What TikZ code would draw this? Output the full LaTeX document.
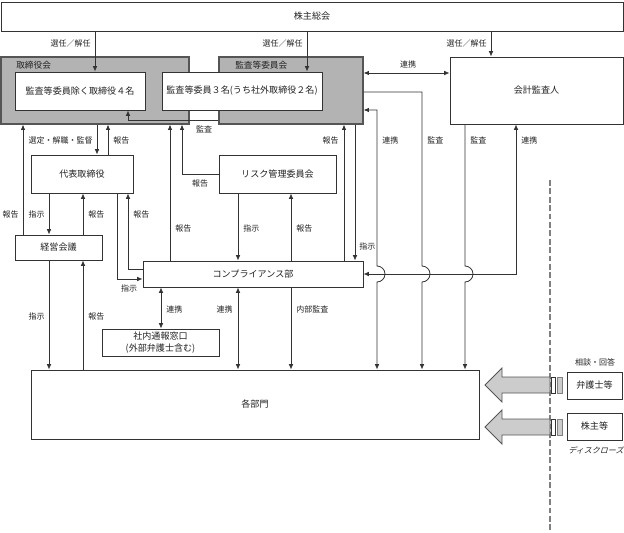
\documentclass[tikz,border=0pt]{standalone}
\usepackage{fontspec}
\setmainfont{Noto Sans CJK JP}
\newfontfamily\slantjp[FakeSlant=0.25]{Noto Sans CJK JP}
\usetikzlibrary{arrows.meta,calc}
\definecolor{linec}{HTML}{333333}
\definecolor{txtc}{HTML}{222222}
\definecolor{grayf}{HTML}{B3B3B3}
\definecolor{grayb}{HTML}{555555}
\definecolor{blockf}{HTML}{CCCCCC}
\definecolor{dashc}{HTML}{808080}
\begin{document}
\begin{tikzpicture}[x=0.75pt,y=-0.75pt,
  box/.style={draw=linec, fill=white, line width=0.7pt, inner sep=0pt, text=txtc, font=\fontsize{6.8}{8.5}\selectfont, align=center},
  graybox/.style={draw=grayb, fill=grayf, line width=0.8pt, inner sep=0pt},
  lbl/.style={inner sep=0pt, text=txtc, font=\fontsize{6}{7}\selectfont},
  conn/.style={draw=linec, line width=0.6pt},
  arr/.style={conn, -{Latex[length=4pt,width=3.4pt]}},
  darr/.style={conn, {Latex[length=4pt,width=3.4pt]}-{Latex[length=4pt,width=3.4pt]}},
  blockarr/.style={draw=grayb, fill=blockf, line width=0.7pt, line join=miter}
]
\useasboundingbox (0,0) rectangle (624,532);

% boxes
\node[box, minimum width=466.5pt, minimum height=21.75pt] (agm) at (312,16.5) {株主総会};
\node[graybox, minimum width=141pt, minimum height=50.25pt] (board) at (95,90.5) {};
\node[graybox, minimum width=108pt, minimum height=50.25pt] (acc) at (291,90.5) {};
\node[lbl, anchor=west, font=\fontsize{6.5}{7}\selectfont] (boardlbl) at (16,65) {取締役会};
\node[lbl, anchor=west, font=\fontsize{6.5}{7}\selectfont] (acclbl) at (235,65) {監査等委員会};
\node[box, minimum width=97.5pt, minimum height=28.5pt] (dir4) at (80,91) {監査等委員除く取締役４名};
\node[box, minimum width=120pt, minimum height=28.5pt] (aud3) at (242,91) {監査等委員３名(うち社外取締役２名)};
\node[box, minimum width=129.75pt, minimum height=50.25pt] (auditor) at (536.5,90.5) {会計監査人};
\node[box, minimum width=76.5pt, minimum height=28.5pt] (rep) at (82,174) {代表取締役};
\node[box, minimum width=87.75pt, minimum height=28.5pt] (risk) at (277.5,174) {リスク管理委員会};
\node[box, minimum width=65.25pt, minimum height=18.75pt] (mgmt) at (58.5,247.5) {経営会議};
\node[box, minimum width=165pt, minimum height=19.5pt] (comp) at (253,274) {コンプライアンス部};
\node[box, minimum width=87.75pt, minimum height=20.25pt] (hotline) at (160.5,342.5) {社内通報窓口\\(外部弁護士含む)};
\node[box, minimum width=336pt, minimum height=51.75pt] (depts) at (255,404.5) {各部門};
\node[box, minimum width=41.25pt, minimum height=20.25pt] (lawyer) at (594.5,385.5) {弁護士等};
\node[box, minimum width=41.25pt, minimum height=20.25pt] (share) at (594.5,426.5) {株主等};

% routing coordinates
\coordinate (s1) at (95,0);
\coordinate (s2) at (307,0);
\coordinate (s3) at (491,0);
\coordinate (k1) at (128,120);
\coordinate (k2) at (0,73);
\coordinate (k3) at (422,92);
\coordinate (k4) at (377,110);
\coordinate (k5) at (516,274);
\coordinate (h1) at (377,274);
\coordinate (h2) at (422,274);
\coordinate (h3) at (465,274);
\coordinate (q1) at (344,0);
\coordinate (q2) at (355,0);
\coordinate (q3) at (97,0);
\coordinate (q4) at (108,0);
\coordinate (q5) at (23,0);
\coordinate (q6) at (49,0);
\coordinate (q7) at (83,0);
\coordinate (k6) at (117,279);
\coordinate (k7) at (128,269);
\coordinate (q8) at (170,0);
\coordinate (k8) at (182,174);
\coordinate (q9) at (238,0);
\coordinate (q10) at (291,0);
\coordinate (q11) at (161,0);
\coordinate (dtop) at (550,180);
\coordinate (dbot) at (550,532);

% connectors from AGM
\draw[arr] (agm.south -| s1) -- (dir4.north -| s1);
\draw[arr] (agm.south -| s2) -- (aud3.north -| s2);
\draw[arr] (agm.south -| s3) -- (auditor.north -| s3);
\node[lbl, anchor=east] (l1) at (91,43) {選任／解任};
\node[lbl, anchor=east] (l2) at (303,43) {選任／解任};
\node[lbl, anchor=east] (l3) at (487,43) {選任／解任};

% audit committee -> directors
\draw[arr] (acc.west |- k1) -- (k1) -- (dir4.south -| k1);
\node[lbl] (l4) at (204,129) {監査};

% renkei committee <-> auditor
\draw[darr] (acc.east |- k2) -- (auditor.west |- k2);
\node[lbl] (l5) at (408,64) {連携};

% committee -> depts (audit)
\draw[arr] (acc.east |- k3) -- (k3) -- ($(h2)+(0,-8)$) .. controls ($(h2)+(4.4,-8)$) and ($(h2)+(8,-4.4)$) .. ($(h2)+(8,0)$) .. controls ($(h2)+(8,4.4)$) and ($(h2)+(4.4,8)$) .. ($(h2)+(0,8)$) -- (depts.north -| h2);
\node[lbl, anchor=west] (l6) at (427,140) {監査};

% committee <-> depts (renkei)
\draw[darr] (acc.east |- k4) -- (k4) -- ($(h1)+(0,-8)$) .. controls ($(h1)+(4.4,-8)$) and ($(h1)+(8,-4.4)$) .. ($(h1)+(8,0)$) .. controls ($(h1)+(8,4.4)$) and ($(h1)+(4.4,8)$) .. ($(h1)+(0,8)$) -- (depts.north -| h1);
\node[lbl, anchor=west] (l7) at (382,140) {連携};

% auditor -> depts
\draw[arr] (auditor.south -| h3) -- ($(h3)+(0,-8)$) .. controls ($(h3)+(4.4,-8)$) and ($(h3)+(8,-4.4)$) .. ($(h3)+(8,0)$) .. controls ($(h3)+(8,4.4)$) and ($(h3)+(4.4,8)$) .. ($(h3)+(0,8)$) -- (depts.north -| h3);
\node[lbl, anchor=west] (l8) at (470,140) {監査};

% auditor <-> compliance
\draw[darr] (comp.east |- k5) -- (k5) -- (auditor.south -| k5);
\node[lbl, anchor=west] (l9) at (521,140) {連携};

% compliance <-> committee
\draw[arr] (comp.north -| q1) -- (acc.south -| q1);
\node[lbl, anchor=east] (l10) at (339,140) {報告};
\draw[arr] (acc.south -| q2) -- (comp.north -| q2);
\node[lbl, anchor=west] (l11) at (359,246) {指示};

% board <-> representative
\draw[arr] (board.south -| q3) -- (rep.north -| q3);
\node[lbl, anchor=east] (l12) at (93,140) {選定・解職・監督};
\draw[arr] (rep.north -| q4) -- (board.south -| q4);
\node[lbl, anchor=west] (l13) at (113,140) {報告};

% mgmt -> board
\draw[arr] (mgmt.north -| q5) -- (board.south -| q5);
\node[lbl, anchor=east] (l14) at (19,214) {報告};

% representative <-> mgmt
\draw[arr] (rep.south -| q6) -- (mgmt.north -| q6);
\node[lbl, anchor=east] (l15) at (45,214) {指示};
\draw[arr] (mgmt.north -| q7) -- (rep.south -| q7);
\node[lbl, anchor=west] (l16) at (88,214) {報告};

% representative <-> compliance
\draw[arr] (rep.south -| k6) -- (k6) -- (comp.west |- k6);
\node[lbl] (l17) at (129,288) {指示};
\draw[arr] (comp.west |- k7) -- (k7) -- (rep.south -| k7);
\node[lbl, anchor=west] (l18) at (133,214) {報告};

% compliance -> board
\draw[arr] (comp.north -| q8) -- (board.south -| q8);
\node[lbl, anchor=west] (l19) at (175,228) {報告};

% risk -> board
\draw[arr] (risk.west |- k8) -- (k8) -- (board.south -| k8);
\node[lbl] (l20) at (200,183) {報告};

% risk <-> compliance
\draw[arr] (risk.south -| q9) -- (comp.north -| q9);
\node[lbl, anchor=west] (l21) at (243,228) {指示};
\draw[arr] (comp.north -| q10) -- (risk.south -| q10);
\node[lbl, anchor=west] (l22) at (296,228) {報告};

% compliance <-> hotline / depts
\draw[darr] (comp.south -| q11) -- (hotline.north -| q11);
\node[lbl, anchor=west] (l23) at (166,309) {連携};
\draw[darr] (comp.south -| q9) -- (depts.north -| q9);
\node[lbl, anchor=east] (l24) at (233,309) {連携};
\draw[arr] (comp.south -| q10) -- (depts.north -| q10);
\node[lbl, anchor=west] (l25) at (296,309) {内部監査};

% mgmt <-> depts
\draw[arr] (mgmt.south -| q6) -- (depts.north -| q6);
\node[lbl, anchor=east] (l26) at (45,316) {指示};
\draw[arr] (depts.north -| q7) -- (mgmt.south -| q7);
\node[lbl, anchor=west] (l27) at (88,316) {報告};

% dashed boundary
\draw[draw=dashc, line width=1.2pt, dash pattern=on 4.3pt off 2pt] (dtop) -- (dbot);

% block arrows
\draw[blockarr] (485,385) -- (502,368) -- (502,377) -- (550,377) -- (550,393) -- (502,393) -- (502,402) -- cycle;
\draw[draw=linec, fill=white, line width=0.6pt] (551,377) rectangle (555,393);
\draw[draw=dashc, fill=blockf, line width=0.6pt] (557,377) rectangle (562,393);
\draw[blockarr] (485,427) -- (502,410) -- (502,419) -- (550,419) -- (550,435) -- (502,435) -- (502,444) -- cycle;
\draw[draw=linec, fill=white, line width=0.6pt] (551,419) rectangle (555,435);
\draw[draw=dashc, fill=blockf, line width=0.6pt] (557,419) rectangle (562,435);

\node[lbl] (l28) at (595,362) {相談・回答};
\node[lbl, font=\fontsize{6}{7}\slantjp] (l29) at (596,450) {ディスクローズ};
\end{tikzpicture}
\end{document}
